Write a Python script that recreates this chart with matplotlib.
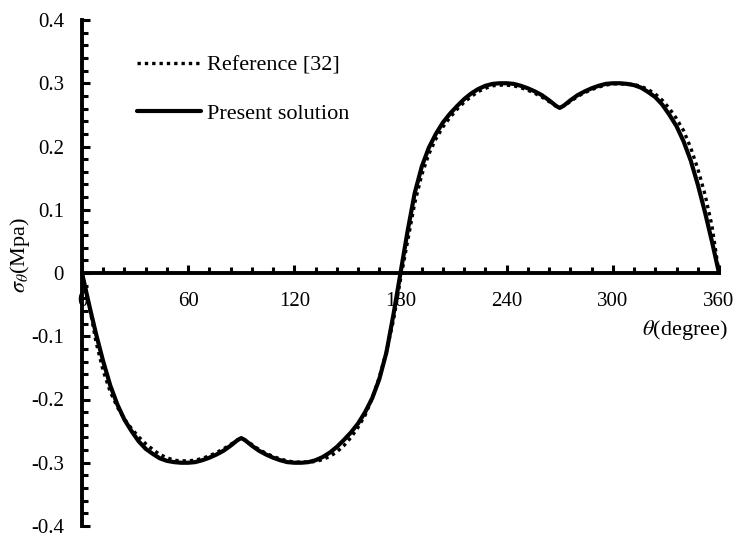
import numpy as np
import matplotlib
matplotlib.use("Agg")
import matplotlib.pyplot as plt
from matplotlib.ticker import MultipleLocator

# Hoop stress around the boundary: present solution vs. Reference [32]
theta = [0, 4, 8, 12, 16, 20, 24, 28, 32, 36, 40, 44, 48, 52, 56, 60, 64, 68,
         72, 76, 80, 84, 88, 90, 92, 96, 100, 104, 108, 112, 116, 120, 124, 128,
         132, 136, 140, 144, 148, 152, 156, 160, 164, 168, 172, 176, 180,
         184, 188, 192, 196, 200, 204, 208, 212, 216, 220, 224, 228, 232, 236,
         240, 244, 248, 252, 256, 260, 264, 268, 270, 272, 276, 280, 284, 288,
         292, 296, 300, 304, 308, 312, 316, 320, 324, 328, 332, 336, 340, 344,
         348, 352, 356, 360]

present = [0, -0.05, -0.097, -0.14, -0.178, -0.208, -0.232, -0.25, -0.266,
           -0.278, -0.286, -0.293, -0.297, -0.299, -0.300, -0.300, -0.299,
           -0.296, -0.292, -0.287, -0.281, -0.273, -0.264, -0.261, -0.264,
           -0.273, -0.281, -0.287, -0.292, -0.296, -0.299, -0.300, -0.300,
           -0.299, -0.296, -0.291, -0.284, -0.275, -0.264, -0.252, -0.238,
           -0.22, -0.198, -0.168, -0.126, -0.066, 0,
           0.066, 0.126, 0.168, 0.198, 0.22, 0.238, 0.252, 0.264, 0.275, 0.284,
           0.291, 0.296, 0.299, 0.300, 0.300, 0.299, 0.296, 0.292, 0.287, 0.281,
           0.273, 0.264, 0.261, 0.264, 0.273, 0.281, 0.287, 0.292, 0.296, 0.299,
           0.300, 0.300, 0.299, 0.297, 0.293, 0.286, 0.278, 0.266, 0.25, 0.232,
           0.208, 0.178, 0.14, 0.097, 0.05, 0]

reference = [0, -0.05, -0.11, -0.155, -0.188, -0.212, -0.231, -0.246, -0.259,
             -0.27, -0.279, -0.287, -0.292, -0.296, -0.297, -0.297, -0.296,
             -0.293, -0.289, -0.284, -0.278, -0.271, -0.264, -0.262, -0.264,
             -0.271, -0.279, -0.285, -0.29, -0.294, -0.297, -0.299, -0.299,
             -0.299, -0.298, -0.295, -0.29, -0.283, -0.273, -0.26, -0.244,
             -0.225, -0.198, -0.165, -0.125, -0.075, -0.01,
             0.05, 0.11, 0.155, 0.188, 0.212, 0.231, 0.246, 0.259, 0.27, 0.279,
             0.287, 0.292, 0.296, 0.297, 0.297, 0.296, 0.293, 0.289, 0.284, 0.278,
             0.271, 0.264, 0.262, 0.264, 0.271, 0.279, 0.285, 0.29, 0.294, 0.297,
             0.299, 0.299, 0.299, 0.298, 0.295, 0.29, 0.283, 0.273, 0.26, 0.244,
             0.225, 0.198, 0.165, 0.125, 0.075, 0]

y_ticks = [-0.4, -0.3, -0.2, -0.1, 0, 0.1, 0.2, 0.3, 0.4]
y_ticklabels = ['-0.4', '-0.3', '-0.2', '-0.1', '0', '0.1', '0.2', '0.3', '0.4']

plt.rcParams['font.family'] = 'Liberation Serif'
plt.rcParams['mathtext.fontset'] = 'stix'

fig = plt.figure(figsize=(7.36, 5.42), dpi=100)
ax = fig.add_axes([82/736, 1-526/542, (719-82)/736, (526-20)/542])

ax.plot(theta, reference, color='black', lw=2.4, linestyle=(0, (1, 1.2)),
        label='Reference [32]', clip_on=False)
ax.plot(theta, present, color='black', lw=3, solid_capstyle='round',
        solid_joinstyle='round', label='Present solution', clip_on=False)

ax.set_xlim(0, 360)
ax.set_ylim(-0.4, 0.4)
ax.spines['top'].set_visible(False)
ax.spines['right'].set_visible(False)
ax.spines['bottom'].set_position(('data', 0))
ax.spines['bottom'].set_linewidth(2.8)
ax.spines['left'].set_linewidth(2.8)

ax.xaxis.set_major_locator(MultipleLocator(60))
ax.xaxis.set_minor_locator(MultipleLocator(12))
ax.yaxis.set_minor_locator(MultipleLocator(0.02))
ax.set_yticks(y_ticks)
ax.set_yticklabels(y_ticklabels)
ax.tick_params(which='both', direction='in', labelsize=15, width=2.2, color='black')
ax.tick_params(which='major', length=6)
ax.tick_params(which='minor', length=4)
ax.tick_params(axis='x', pad=14)
ax.tick_params(axis='y', pad=13)

fig.text(20/736, 1-255/542, r'$\sigma_\theta$(Mpa)', rotation=90, fontsize=16,
         ha='center', va='center')
fig.text(728/736, 1-330/542, r'$\theta$(degree)', fontsize=16, ha='right', va='center')

ax.legend(loc='upper left', bbox_to_anchor=(137/736, 1-55/542),
          bbox_transform=fig.transFigure, frameon=False, fontsize=16,
          handlelength=2.9, handletextpad=0.25, labelspacing=1.25,
          borderpad=0, borderaxespad=0)

fig.savefig('out.png', dpi=100)
